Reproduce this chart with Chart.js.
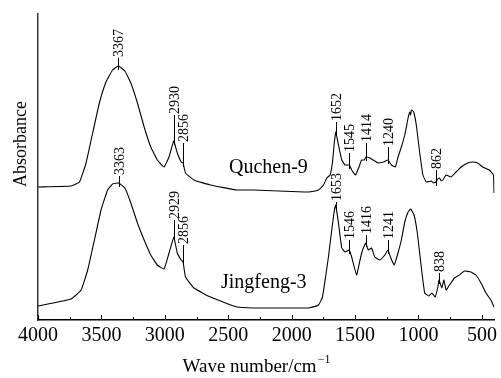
<!DOCTYPE html>
<html>
<head>
<meta charset="utf-8">
<script src="https://cdn.jsdelivr.net/npm/chart.js@4"></script>
<style>
  html, body { margin: 0; padding: 0; background: #fff; }
  canvas { display: block; }
</style>
</head>
<body>
<canvas id="ftir" width="501" height="378"></canvas>
<script>
'use strict';

// x ticks (wave number, cm-1)
const xMajor = [4000, 3500, 3000, 2500, 2000, 1500, 1000, 500];
const xMinor = [3750, 3250, 2750, 2250, 1750, 1250, 750];

// Quchen-9 spectrum (offset upper trace)
const quchenWn  = [4000, 3739, 3673, 3621, 3569, 3516, 3464, 3412, 3367, 3315, 3268, 3216, 3163, 3111, 3059, 3006,
  2967, 2930, 2902, 2871, 2856, 2837, 2771, 2641, 2431, 2300, 2100, 1900, 1867, 1788, 1749, 1723, 1697, 1678, 1663,
  1652, 1631, 1605, 1579, 1545, 1527, 1496, 1469, 1449, 1427, 1414, 1383, 1357, 1318, 1278, 1240, 1213, 1182, 1161,
  1135, 1108, 1082, 1069, 1062, 1056, 1043, 1035, 1017, 991, 965, 939, 900, 880, 862, 848, 834, 820, 808, 782, 743,
  704, 664, 612, 573, 533, 494, 442, 409, 404];
const quchenAbs = [1.33, 1.34, 1.38, 1.57, 1.87, 2.17, 2.38, 2.50, 2.54, 2.49, 2.37, 2.17, 1.93, 1.73, 1.60, 1.53,
  1.63, 1.79, 1.67, 1.58, 1.57, 1.47, 1.40, 1.35, 1.30, 1.30, 1.29, 1.28, 1.28, 1.30, 1.35, 1.42, 1.45, 1.58, 1.78,
  1.88, 1.75, 1.60, 1.55, 1.55, 1.50, 1.45, 1.53, 1.60, 1.60, 1.63, 1.62, 1.60, 1.57, 1.58, 1.60, 1.55, 1.53, 1.63,
  1.73, 1.85, 2.02, 2.08, 2.05, 2.10, 2.09, 2.07, 1.95, 1.68, 1.45, 1.38, 1.39, 1.37, 1.38, 1.41, 1.42, 1.39, 1.40, 1.45, 1.43,
  1.48, 1.53, 1.57, 1.58, 1.57, 1.53, 1.50, 1.45, 1.27];

// Jingfeng-3 spectrum (lower trace)
const jingfengWn  = [4000, 3739, 3660, 3608, 3555, 3503, 3451, 3412, 3363, 3315, 3268, 3216, 3163, 3111, 3059, 3006,
  2967, 2929, 2902, 2871, 2856, 2837, 2771, 2641, 2431, 2300, 2100, 1900, 1867, 1788, 1757, 1736, 1710, 1684, 1663,
  1653, 1631, 1605, 1579, 1546, 1527, 1488, 1461, 1441, 1416, 1396, 1370, 1344, 1304, 1265, 1241, 1218, 1192, 1166,
  1135, 1108, 1082, 1061, 1035, 1009, 978, 951, 920, 894, 868, 847, 838, 816, 800, 782, 755, 716, 677, 638, 586, 547,
  507, 468, 429, 404];
const jingfengAbs = [0.14, 0.21, 0.30, 0.50, 0.80, 1.10, 1.30, 1.36, 1.37, 1.32, 1.17, 0.97, 0.80, 0.65, 0.55, 0.51,
  0.67, 0.83, 0.67, 0.60, 0.58, 0.43, 0.32, 0.23, 0.13, 0.12, 0.12, 0.12, 0.12, 0.15, 0.23, 0.40, 0.63, 0.90, 1.10,
  1.15, 0.97, 0.72, 0.68, 0.70, 0.63, 0.45, 0.60, 0.70, 0.77, 0.70, 0.72, 0.63, 0.60, 0.65, 0.70, 0.62, 0.55, 0.65,
  0.80, 0.98, 1.08, 1.11, 1.05, 0.87, 0.53, 0.27, 0.24, 0.27, 0.23, 0.33, 0.40, 0.32, 0.40, 0.30, 0.35, 0.42, 0.45,
  0.49, 0.48, 0.45, 0.37, 0.27, 0.20, 0.13];

// marked peaks
const quchenPeaks   = [3367, 2930, 2856, 1652, 1545, 1414, 1240, 862];
const jingfengPeaks = [3363, 2929, 2856, 1653, 1546, 1416, 1241, 838];
const seriesNames   = ['Quchen-9', 'Jingfeng-3'];

// label styling: stem length (px) above each peak, and where the sample name sits
const quchenStems   = [8, 26, 20, 10, 12, 14, 13, 12];
const jingfengStems = [7, 17, 17, 3, 10, 8, 10, 7];
const nameAnchors   = [[2494, 1.52], [2557, 0.37]];

const FONT = "'Liberation Serif', 'Times New Roman', serif";

function _points(wn, abs) {
  return wn.map((w, i) => ({ x: w, y: abs[i] }));
}

function _valueAt(wn, abs, w) {
  for (let i = 0; i < wn.length - 1; i++) {
    if (w <= wn[i] && w >= wn[i + 1]) {
      const t = (wn[i] - w) / (wn[i] - wn[i + 1] || 1);
      return abs[i] + t * (abs[i + 1] - abs[i]);
    }
  }
  return abs[abs.length - 1];
}

const decorations = {
  id: 'decorations',
  afterDraw(chart) {
    const { ctx, scales: { x, y } } = chart;
    ctx.save();
    ctx.strokeStyle = '#000';
    ctx.fillStyle = '#000';

    // inward tick marks
    ctx.lineWidth = 1;
    const yb = y.bottom;
    ctx.beginPath();
    xMajor.forEach(v => {
      const px = Math.round(x.getPixelForValue(v)) + 0.5;
      ctx.moveTo(px, yb); ctx.lineTo(px, yb - 5);
    });
    xMinor.forEach(v => {
      const px = Math.round(x.getPixelForValue(v)) + 0.5;
      ctx.moveTo(px, yb); ctx.lineTo(px, yb - 3);
    });
    ctx.stroke();

    // peak stems and labels
    ctx.font = '14px ' + FONT;
    ctx.textAlign = 'left';
    ctx.textBaseline = 'middle';
    const sets = [
      [quchenPeaks, quchenStems, quchenWn, quchenAbs],
      [jingfengPeaks, jingfengStems, jingfengWn, jingfengAbs],
    ];
    sets.forEach(([peaks, stems, wn, abs]) => {
      peaks.forEach((p, i) => {
        const px = Math.round(x.getPixelForValue(p)) + 0.5;
        const py = y.getPixelForValue(_valueAt(wn, abs, p));
        const top = py - stems[i];
        ctx.beginPath();
        ctx.moveTo(px, py + 4); ctx.lineTo(px, top);
        ctx.stroke();
        ctx.save();
        ctx.translate(px + 1, top - 1);
        ctx.rotate(-Math.PI / 2);
        ctx.fillText(String(p), 0, 0);
        ctx.restore();
      });
    });

    // sample names
    ctx.font = '20px ' + FONT;
    seriesNames.forEach((n, i) => {
      const [w, a] = nameAnchors[i];
      ctx.fillText(n, x.getPixelForValue(w), y.getPixelForValue(a));
    });

    // axis titles
    ctx.font = '18px ' + FONT;
    ctx.textAlign = 'center';
    ctx.save();
    ctx.translate(21, y.top + (y.bottom - y.top) * 0.425);
    ctx.rotate(-Math.PI / 2);
    ctx.fillText('Absorbance', 0, 0);
    ctx.restore();

    ctx.font = '19px ' + FONT;
    const main = 'Wave number/cm';
    const sup = '\u22121';
    const wMain = ctx.measureText(main).width;
    ctx.font = '12px ' + FONT;
    const wSup = ctx.measureText(sup).width;
    const cx = 256.5, cy = 367;
    const left = cx - (wMain + wSup + 1) / 2;
    ctx.textAlign = 'left';
    ctx.font = '19px ' + FONT;
    ctx.fillText(main, left, cy);
    ctx.font = '12px ' + FONT;
    ctx.fillText(sup, left + wMain + 1, cy - 7);
    ctx.restore();
  }
};

const lineStyle = { borderColor: '#000', borderWidth: 1.1, pointRadius: 0, fill: false, tension: 0.1 };

new Chart(document.getElementById('ftir'), {
  type: 'line',
  data: {
    datasets: [
      { label: seriesNames[0], data: _points(quchenWn, quchenAbs), ...lineStyle },
      { label: seriesNames[1], data: _points(jingfengWn, jingfengAbs), ...lineStyle },
    ]
  },
  options: {
    responsive: false,
    animation: false,
    layout: { padding: { top: 14, right: 4, left: 0, bottom: 0 } },
    plugins: { legend: { display: false }, tooltip: { enabled: false } },
    scales: {
      x: {
        type: 'linear',
        reverse: true,
        min: 400,
        max: 4000,
        afterBuildTicks: s => { s.ticks = xMajor.map(v => ({ value: v })); },
        afterFit: s => { s.height = 58; },
        grid: { display: false, drawTicks: false },
        border: { display: true, color: '#000', width: 1.5 },
        ticks: { color: '#000', padding: 4, maxRotation: 0, autoSkip: false,
                 callback: v => String(v),
                 font: { family: FONT, size: 20 } }
      },
      y: {
        min: 0,
        max: 3.06,
        afterFit: s => { s.width = 38; },
        grid: { display: false, drawTicks: false },
        border: { display: true, color: '#333', width: 1.5 },
        ticks: { display: false }
      }
    }
  },
  plugins: [decorations]
});
</script>
</body>
</html>
